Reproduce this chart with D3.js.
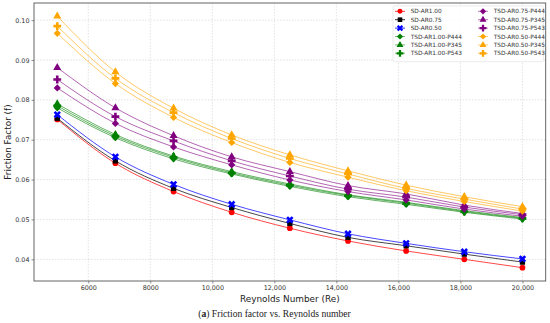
<!DOCTYPE html>
<html>
<head>
<meta charset="utf-8">
<script src="https://cdn.jsdelivr.net/npm/d3@7"></script>
<style>
  body { margin: 0; background: #fff; }
  svg { display: block; }
</style>
</head>
<body>
<svg id="chart"></svg>
<script>
// Reynolds numbers where the points sit
const reynolds = [5000, 6875, 8750, 10625, 12500, 14375, 16250, 18125, 20000];
const xTicks = [6000, 8000, 10000, 12000, 14000, 16000, 18000, 20000];
const yTicks = [0.04, 0.05, 0.06, 0.07, 0.08, 0.09, 0.10];

const seriesNames = ['SD-AR1.00', 'SD-AR0.75', 'SD-AR0.50',
  'TSD-AR1.00-P444', 'TSD-AR1.00-P345', 'TSD-AR1.00-P543',
  'TSD-AR0.75-P444', 'TSD-AR0.75-P345', 'TSD-AR0.75-P543',
  'TSD-AR0.50-P444', 'TSD-AR0.50-P345', 'TSD-AR0.50-P543'];

// friction factor values
const sdAR100 = [0.0751, 0.0641, 0.0570, 0.0518, 0.0478, 0.0446, 0.0421, 0.0400, 0.0379];
const sdAR075 = [0.0754, 0.0647, 0.0578, 0.0530, 0.0490, 0.0455, 0.0434, 0.0413, 0.0393];
const sdAR050 = [0.0763, 0.0657, 0.0588, 0.0538, 0.0499, 0.0464, 0.0440, 0.0419, 0.0401];
const tsd100P444 = [0.0780, 0.0705, 0.0652, 0.0614, 0.0583, 0.0557, 0.0538, 0.0518, 0.0501];
const tsd100P345 = [0.0790, 0.0713, 0.0659, 0.0620, 0.0589, 0.0562, 0.0543, 0.0522, 0.0505];
const tsd100P543 = [0.0785, 0.0709, 0.0656, 0.0617, 0.0586, 0.0560, 0.0541, 0.0520, 0.0503];
const tsd075P444 = [0.0830, 0.0741, 0.0682, 0.0637, 0.0599, 0.0570, 0.0549, 0.0526, 0.0508];
const tsd075P345 = [0.0881, 0.0780, 0.0710, 0.0657, 0.0620, 0.0585, 0.0564, 0.0536, 0.0515];
const tsd075P543 = [0.0851, 0.0758, 0.0697, 0.0647, 0.0609, 0.0576, 0.0556, 0.0531, 0.0512];
const tsd050P444 = [0.0967, 0.0841, 0.0756, 0.0693, 0.0643, 0.0606, 0.0572, 0.0545, 0.0521];
const tsd050P345 = [0.1010, 0.0870, 0.0779, 0.0712, 0.0662, 0.0622, 0.0586, 0.0557, 0.0532];
const tsd050P543 = [0.0985, 0.0854, 0.0768, 0.0703, 0.0653, 0.0614, 0.0578, 0.0551, 0.0526];

const seriesValues = [sdAR100, sdAR075, sdAR050, tsd100P444, tsd100P345, tsd100P543,
  tsd075P444, tsd075P345, tsd075P543, tsd050P444, tsd050P345, tsd050P543];
const seriesColors = ['red', 'black', 'blue', 'green', 'green', 'green',
  'purple', 'purple', 'purple', 'orange', 'orange', 'orange'];
const seriesMarkers = ['circle', 'square', 'x', 'diamond', 'triangle', 'plus',
  'diamond', 'triangle', 'plus', 'diamond', 'triangle', 'plus'];

const W = 550, H = 323;
const margin = { top: 3, right: 4.3, bottom: 42, left: 34 };
const width = W - margin.left - margin.right;
const height = H - margin.top - margin.bottom;

const svg = d3.select('#chart').attr('width', W).attr('height', H);
const g = svg.append('g').attr('transform', `translate(${margin.left},${margin.top})`);

const x = d3.scaleLinear().domain([4250, 20750]).range([0, width]);
const y = d3.scaleLinear().domain([0.03456, 0.1043]).range([height, 0]);

// grid
g.append('g').selectAll('line').data(xTicks).enter().append('line')
  .attr('x1', d => x(d)).attr('x2', d => x(d)).attr('y1', 0).attr('y2', height)
  .attr('stroke', '#cfcfcf').attr('stroke-width', 0.6).attr('stroke-dasharray', '1.5,1.5');
g.append('g').selectAll('line').data(yTicks).enter().append('line')
  .attr('x1', 0).attr('x2', width).attr('y1', d => y(d)).attr('y2', d => y(d))
  .attr('stroke', '#cfcfcf').attr('stroke-width', 0.6).attr('stroke-dasharray', '1.5,1.5');

// axes
const fmtX = v => v >= 10000 ? d3.format(',')(v) : String(v);
const xAxis = g.append('g').attr('transform', `translate(0,${height})`)
  .call(d3.axisBottom(x).tickValues(xTicks).tickFormat(fmtX).tickSize(2.5).tickPadding(2));
const yAxis = g.append('g')
  .call(d3.axisLeft(y).tickValues(yTicks).tickFormat(d3.format('.2f')).tickSize(2.5).tickPadding(2));
[xAxis, yAxis].forEach(a => {
  a.select('.domain').remove();
  a.selectAll('line').attr('stroke', '#444').attr('stroke-width', 0.6);
  a.selectAll('text').attr('fill', '#333').style('font-family', 'DejaVu Sans').style('font-size', '6.4px');
});

// frame
g.append('rect').attr('width', width).attr('height', height)
  .attr('fill', 'none').attr('stroke', '#555').attr('stroke-width', 0.9);

// marker shapes; diamond and x are squares / crosses turned by 45 degrees
function markerType(kind) {
  if (kind === 'circle') return d3.symbolCircle;
  if (kind === 'square' || kind === 'diamond') return d3.symbolSquare;
  if (kind === 'triangle') return d3.symbolTriangle;
  return d3.symbolCross;
}
function markerSize(kind) {
  return { circle: 26, square: 28, x: 34, diamond: 26, triangle: 28, plus: 34 }[kind];
}
function markerTurn(kind) {
  return (kind === 'x' || kind === 'diamond') ? ' rotate(45)' : '';
}

const line = d3.line().x(d => x(d[0])).y(d => y(d[1])).curve(d3.curveMonotoneX);

// draw lines then markers
seriesValues.forEach((vals, i) => {
  const pts = reynolds.map((r, j) => [r, vals[j]]);
  const isSD = i < 3;
  g.append('path').datum(pts)
    .attr('d', line)
    .attr('fill', 'none')
    .attr('stroke', seriesColors[i])
    .attr('stroke-width', isSD ? 0.8 : 1)
    .attr('stroke-opacity', isSD ? 0.9 : 0.6);
});
seriesValues.forEach((vals, i) => {
  const pts = reynolds.map((r, j) => [r, vals[j]]);
  const k = seriesMarkers[i];
  g.append('g').selectAll('path').data(pts).enter().append('path')
    .attr('d', d3.symbol(markerType(k), markerSize(k))())
    .attr('transform', d => `translate(${x(d[0])},${y(d[1])})` + markerTurn(k))
    .attr('fill', seriesColors[i]);
});

// legend
const lg = g.append('g').attr('transform', `translate(${393 - margin.left},${6 - margin.top})`);
lg.append('rect').attr('width', 150.5).attr('height', 55.7)
  .attr('fill', 'white').attr('fill-opacity', 0.85)
  .attr('stroke', '#ddd').attr('stroke-width', 0.6).attr('rx', 1.5);
seriesNames.forEach((name, i) => {
  const col = Math.floor(i / 6), row = i % 6;
  const k = seriesMarkers[i];
  const item = lg.append('g').attr('transform', `translate(${col * 83},${5.3 + row * 8.4})`);
  item.append('line').attr('x1', 2).attr('x2', 12).attr('y1', 0).attr('y2', 0)
    .attr('stroke', seriesColors[i]).attr('stroke-width', 0.9)
    .attr('stroke-opacity', i < 3 ? 0.9 : 0.6);
  item.append('path').attr('d', d3.symbol(markerType(k), markerSize(k) * 0.75)())
    .attr('transform', 'translate(7,0)' + markerTurn(k))
    .attr('fill', seriesColors[i]);
  item.append('text').attr('x', 17.7).attr('y', 0).attr('dy', '0.35em')
    .style('font-family', 'DejaVu Sans').style('font-size', '5.8px').attr('fill', '#333')
    .text(name);
});

// axis labels
svg.append('text').attr('x', margin.left + width / 2).attr('y', 301.5)
  .attr('text-anchor', 'middle').style('font-family', 'DejaVu Sans').style('font-size', '8.9px')
  .attr('fill', '#222').text('Reynolds Number (Re)');
svg.append('text').attr('transform', `translate(11,${margin.top + height / 2}) rotate(-90)`)
  .attr('text-anchor', 'middle').style('font-family', 'DejaVu Sans').style('font-size', '8.9px')
  .attr('fill', '#222').text('Friction Factor (f)');

// caption
const cap = svg.append('text').attr('x', 274.5).attr('y', 317)
  .attr('text-anchor', 'middle').style('font-family', 'Liberation Serif').style('font-size', '9.6px')
  .attr('fill', '#222');
cap.append('tspan').text('(');
cap.append('tspan').style('font-weight', 'bold').text('a');
cap.append('tspan').text(') Friction factor vs. Reynolds number');
</script>
</body>
</html>
